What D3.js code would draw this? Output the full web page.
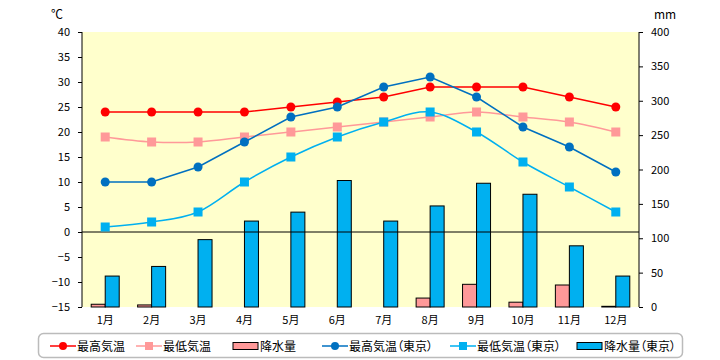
<!DOCTYPE html>
<html><head><meta charset="utf-8">
<script src="https://cdn.jsdelivr.net/npm/d3@7"></script>
<style>body{margin:0;background:#fff}svg{display:block}text{font-feature-settings:"palt"}</style>
</head><body>
<svg id="c" width="720" height="360"></svg>
<script>
const months = ["1月","2月","3月","4月","5月","6月","7月","8月","9月","10月","11月","12月"];
const highLocal = [24,24,24,24,25,26,27,29,29,29,27,25];
const lowLocal  = [19,18,18,19,20,21,22,23,24,23,22,20];
const rainLocal = [4,3,0,0,0,0,0,13,33,7,32,1];
const highTokyo = [10,10,13,18,23,25,29,31,27,21,17,12];
const lowTokyo  = [1,2,4,10,15,19,22,24,20,14,9,4];
const rainTokyo = [45,59,98,125,138,184,125,147,180,164,89,45];
const tempTicks = [40,35,30,25,20,15,10,5,0,-5,-10,-15];
const rainTicks = [400,350,300,250,200,150,100,50,0];
const legendLabels = ["最高気温","最低気温","降水量","最高気温（東京）","最低気温（東京）","降水量（東京）"];

const svg = d3.select("#c");
const L = 82, R = 639, T = 32, B = 307;
const font = "'Noto Sans CJK JP', sans-serif";

const x = d3.scaleBand().domain(months).range([L, R]).padding(0);
const cx = m => x(m) + x.bandwidth()/2;
const yT = d3.scaleLinear().domain([-15, 40]).range([B, T]);
const yR = d3.scaleLinear().domain([0, 400]).range([B, T]);
const xs = d3.scaleBand().domain(["l","t"]).range([-14, 14]).padding(0);

svg.append("rect").attr("x", L).attr("y", T).attr("width", R-L).attr("height", B-T).attr("fill", "#FFFFCC");

// bars
const g = svg.append("g");
months.forEach((m,i) => {
  [["l", rainLocal[i], "#FF9999"], ["t", rainTokyo[i], "#00B0F0"]].forEach(([k,v,c]) => {
    if (v <= 0) return;
    g.append("rect").attr("x", cx(m)+xs(k)).attr("y", yR(v)).attr("width", xs.bandwidth())
      .attr("height", yR(0)-yR(v)).attr("fill", c).attr("stroke", "#000").attr("stroke-width", 1);
  });
});

// zero line
svg.append("line").attr("x1", L).attr("x2", R).attr("y1", yT(0)).attr("y2", yT(0)).attr("stroke", "#000").attr("stroke-width", 1);

// axes
const axL = svg.append("g").attr("transform", `translate(${L},0)`)
  .call(d3.axisLeft(yT).tickValues(tempTicks).tickSize(4).tickPadding(8).tickFormat(d3.format("d")));
const axR = svg.append("g").attr("transform", `translate(${R},0)`)
  .call(d3.axisRight(yR).tickValues(rainTicks).tickSize(4).tickPadding(8));
[axL, axR].forEach(a => {
  a.select(".domain").remove();
  a.selectAll("text").attr("font-size", 11).attr("font-family", font).attr("fill", "#000");
  a.selectAll("line").attr("stroke", "#000");
});
svg.append("line").attr("x1", L).attr("x2", L).attr("y1", T).attr("y2", B).attr("stroke", "#000");
svg.append("line").attr("x1", R).attr("x2", R).attr("y1", T).attr("y2", B).attr("stroke", "#000");

// month labels
svg.append("g").selectAll("text").data(months).join("text")
  .attr("x", d => cx(d)).attr("y", 324).attr("text-anchor", "middle")
  .attr("font-size", 11).attr("font-family", font).text(d => d);

svg.append("text").attr("x", 57).attr("y", 19).attr("text-anchor","middle").attr("font-size", 12).attr("font-family", font).text("℃");
svg.append("text").attr("x", 665).attr("y", 19).attr("text-anchor","middle").attr("font-size", 12).attr("font-family", font).text("mm");

// lines
function series(data, color, curve, marker) {
  const line = d3.line().x((d,i) => cx(months[i])).y(d => yT(d)).curve(curve);
  svg.append("path").datum(data).attr("d", line).attr("fill", "none").attr("stroke", color).attr("stroke-width", 1.5);
  const gg = svg.append("g");
  data.forEach((d,i) => {
    if (marker === "c") gg.append("circle").attr("cx", cx(months[i])).attr("cy", yT(d)).attr("r", 4.5).attr("fill", color);
    else gg.append("rect").attr("x", cx(months[i])-4.5).attr("y", yT(d)-4.5).attr("width", 9).attr("height", 9).attr("fill", color);
  });
}
series(lowLocal, "#FF9999", d3.curveCatmullRom.alpha(0), "s");
series(highLocal, "#FF0000", d3.curveLinear, "c");
series(lowTokyo, "#00B0F0", d3.curveCatmullRom.alpha(0), "s");
series(highTokyo, "#0070C0", d3.curveLinear, "c");

// legend
const lg = svg.append("g");
lg.append("rect").attr("x", 38.5).attr("y", 333.5).attr("width", 644).attr("height", 24).attr("rx", 5)
  .attr("fill", "#fff").attr("stroke", "#BBBBBB").attr("stroke-width", 1.5);
const items = [
  {t:"line", c:"#FF0000", m:"c", x:50},
  {t:"line", c:"#FF9999", m:"s", x:136},
  {t:"rect", c:"#FF9999", x:233},
  {t:"line", c:"#0070C0", m:"c", x:322},
  {t:"line", c:"#00B0F0", m:"s", x:450},
  {t:"rect", c:"#00B0F0", x:577}
];
const ly = 346;
items.forEach((it,i) => {
  if (it.t === "line") {
    lg.append("line").attr("x1", it.x).attr("x2", it.x+26).attr("y1", ly).attr("y2", ly).attr("stroke", it.c).attr("stroke-width", 1.5);
    if (it.m === "c") lg.append("circle").attr("cx", it.x+13).attr("cy", ly).attr("r", 4).attr("fill", it.c);
    else lg.append("rect").attr("x", it.x+9).attr("y", ly-4).attr("width", 8).attr("height", 8).attr("fill", it.c);
  } else {
    lg.append("rect").attr("x", it.x).attr("y", ly-3.5).attr("width", 25).attr("height", 7).attr("fill", it.c).attr("stroke", "#000");
  }
  lg.append("text").attr("x", it.x+27).attr("y", ly+4.5).attr("font-size", 12).attr("font-family", font).text(legendLabels[i]);
});
</script>
</body></html>
